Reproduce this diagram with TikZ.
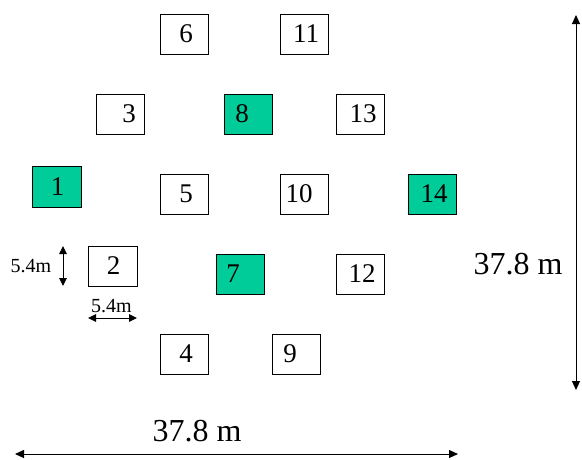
\documentclass[tikz,border=0pt]{standalone}
\usepackage{fontspec}
\setmainfont{Liberation Serif}
\usetikzlibrary{arrows.meta}
\definecolor{plotgreen}{RGB}{0,204,153}
\tikzset{
  cell/.style n args={2}{draw=black, line width=0.9pt, minimum width=48pt,
    minimum height=40pt, inner sep=0pt,
    label={[font=\fontsize{27}{27}\selectfont, inner sep=0pt, xshift=#2]center:#1}},
  marked/.style={fill=plotgreen},
  dimline/.style={line width=1pt, {Triangle[length=9pt,width=8pt]}-{Triangle[length=9pt,width=8pt]}},
  smalldim/.style={line width=1pt, {Triangle[length=8pt,width=7.5pt]}-{Triangle[length=8pt,width=7.5pt]}},
  bigtext/.style={font=\fontsize{32}{32}\selectfont, inner sep=0pt},
  smalltext/.style={font=\fontsize{20}{20}\selectfont, inner sep=0pt}
}
\begin{document}
\begin{tikzpicture}[x=1pt,y=-1pt]
  \useasboundingbox (0,0) rectangle (582,459);

  % plots, row by row
  \node[cell={6}{2pt}]  (b6)  at (184,34) {};
  \node[cell={11}{2pt}] (b11) at (304,34) {};

  \node[cell={3}{9pt}]         (b3)  at (120,114) {};
  \node[cell={8}{-6pt},marked] (b8)  at (248,114) {};
  \node[cell={13}{3pt}]        (b13) at (360,114) {};

  \node[cell={1}{1pt},marked, minimum width=49pt, minimum height=41pt] (b1) at (56.5,186.5) {};
  \node[cell={5}{2pt}]          (b5)  at (184,194) {};
  \node[cell={10}{-5pt}]        (b10) at (304,194) {};
  \node[cell={14}{2pt},marked]  (b14) at (432,194) {};

  \node[cell={2}{1pt}, minimum width=49pt] (b2) at (112.5,266) {};
  \node[cell={7}{-7pt},marked]  (b7)  at (240,274) {};
  \node[cell={12}{2pt}]         (b12) at (360,274) {};

  \node[cell={4}{2pt}]  (b4) at (184,354) {};
  \node[cell={9}{-6pt}] (b9) at (296,354) {};

  % size of a single plot
  \coordinate (sv1) at (63,246);
  \coordinate (sv2) at (63,286);
  \draw[smalldim] (sv1) -- (sv2);
  \node[smalltext] (sl1) at (31,266) {5.4m};

  \coordinate (sh1) at (88,318);
  \coordinate (sh2) at (137,318);
  \draw[smalldim] (sh1) -- (sh2);
  \node[smalltext] (sl2) at (111.5,306) {5.4m};

  % overall extent of the field
  \coordinate (v1) at (576,15);
  \coordinate (v2) at (576,390);
  \draw[dimline] (v1) -- (v2);
  \node[bigtext] (vl) at (518,264) {37.8 m};

  \coordinate (h1) at (15,454);
  \coordinate (h2) at (458,454);
  \draw[dimline] (h1) -- (h2);
  \node[bigtext] (hl) at (197,431) {37.8 m};
\end{tikzpicture}
\end{document}
